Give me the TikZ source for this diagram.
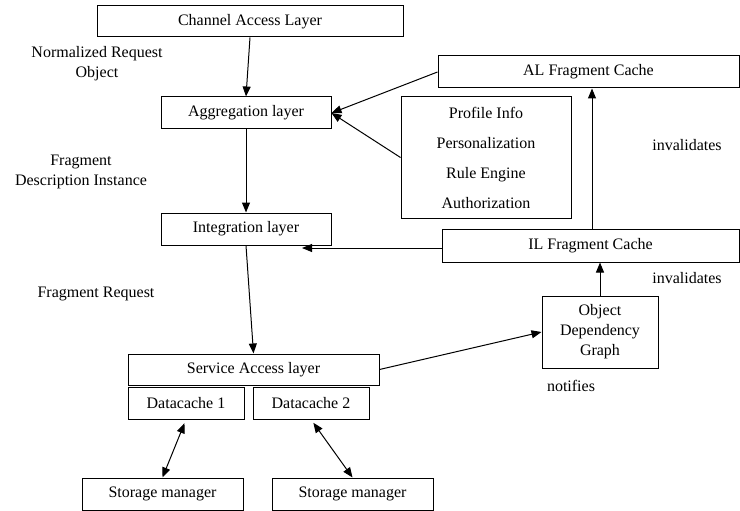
\documentclass[tikz,border=0pt]{standalone}
\usepackage{fontspec}
\setmainfont{Liberation Serif}
\usetikzlibrary{arrows.meta,calc}
\begin{document}
\begin{tikzpicture}[x=1pt,y=-1pt,
  every node/.style={font=\fontsize{16}{20}\selectfont, inner sep=0pt},
  box/.style={draw, line width=1pt, minimum width=#1},
  lbl/.style={align=center},
  conn/.style={line width=1pt, -{Triangle[length=10pt,width=8pt]}},
  biconn/.style={line width=1pt, {Triangle[length=10pt,width=8pt]}-{Triangle[length=10pt,width=8pt]}}
]
\useasboundingbox (0,0) rectangle (740,511);

% layer boxes
\node[box=306pt, minimum height=31pt] (chan)  at (250,21.5)   {Channel Access Layer};
\node[box=170pt, minimum height=32pt] (agg)   at (246,113)    {Aggregation layer};
\node[box=301pt, minimum height=32pt] (alc)   at (588.5,72)   {AL Fragment Cache};
\node[box=170pt, minimum height=121pt, align=center,
      font=\fontsize{16}{30}\selectfont] (prof) at (486,157.5)
      {Profile Info\\Personalization\\Rule Engine\\Authorization};
\node[box=170pt, minimum height=32pt] (integ) at (246,229)    {Integration layer};
\node[box=297pt, minimum height=33pt] (ilc)   at (590.5,245.5){IL Fragment Cache};
\node[box=116pt, minimum height=72pt, align=center] (odg) at (600,332)
      {Object\\Dependency\\Graph};
\node[box=251pt, minimum height=31pt] (sal)   at (253.5,369.5){Service Access layer};
\node[box=116pt, minimum height=32pt] (dc1)   at (186,403)    {Datacache 1};
\node[box=116pt, minimum height=32pt] (dc2)   at (311,403)    {Datacache 2};
\node[box=161pt, minimum height=32pt] (sm1)   at (162.5,494)  {Storage manager};
\node[box=161pt, minimum height=32pt] (sm2)   at (352.5,494)  {Storage manager};

% free text labels
\node[lbl] (nro) at (97,63.5)  {Normalized Request\\Object};
\node[lbl] (fdi) at (81,172)   {Fragment\\Description Instance};
\node[lbl] (frq) at (96,294)   {Fragment Request};
\node[lbl] (inv1) at (687,145) {invalidates};
\node[lbl] (inv2) at (687,278) {invalidates};
\node[lbl] (ntf) at (571,386)  {notifies};

% helper points
\coordinate (ilin) at (302,248);
\coordinate (upx)  at (592,0);

% connectors
\draw[conn] (chan.south) -- (agg.north);
\draw[conn] (agg.south) -- (integ.north);
\draw[conn] (alc.west) -- (agg.east);
\draw[conn] (prof.west) -- (agg.east);
\draw[conn] (ilc.west |- ilin) -- (ilin);
\draw[conn] (ilc.north -| upx) -- (alc.south -| upx);
\draw[conn] (odg.north) -- (ilc.south -| odg.north);
\draw[conn] (integ.south) -- (sal.north);
\draw[conn] (sal.east) -- (odg.west);
\draw[biconn, shorten <=4pt] (dc1.south) -- (sm1.north);
\draw[biconn, shorten <=4pt] (dc2.south) -- (sm2.north);
\end{tikzpicture}
\end{document}
